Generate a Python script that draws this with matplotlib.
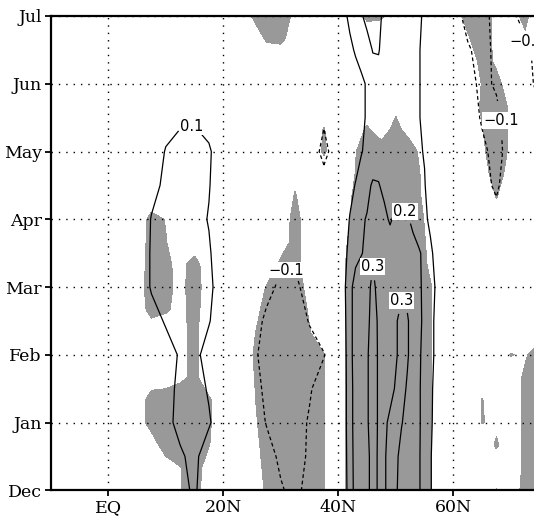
import numpy as np
import matplotlib
matplotlib.use('Agg')
import matplotlib.pyplot as plt

# ---------------- data ----------------
months = ['Dec', 'Jan', 'Feb', 'Mar', 'Apr', 'May', 'Jun', 'Jul']
lat_ticks = [0, 20, 40, 60]
lat_labels = ['EQ', '20N', '40N', '60N']

# correlation field (contour lines), values in hundredths
corr_lat = [-10, -5, 0, 5, 7.5, 10, 12.5, 15, 17.5, 20, 22.5, 25, 27.5, 30, 32.5, 35, 37.5,
            40, 41, 42, 43, 44, 45, 46, 47, 48, 49, 50, 51, 52, 53, 54, 55, 56, 57, 58,
            60, 62.5, 65, 67.5, 70, 72.5, 75]
corr_time = [0, 0.5, 1, 1.5, 2, 2.5, 3, 3.5, 4, 4.5, 5, 5.5, 6, 6.5, 7]
corr_rows = [
    [0, 1, 2, 3, 4, 5, 8, 11, 5, 2, 0, -3, -6, -9, -13, -6, -2,
     2, 6, 14, 24, 26, 28, 33, 29, 29, 33, 31, 27, 25, 23, 21, 16, 11, 5, 2,
     0, -1, -2, -2, -1, 0, 0],
    [0, 1, 2, 3, 4, 6, 9, 12, 5, 2, 0, -3, -6, -12, -14, -8.5, -3,
     2, 6, 15, 24, 26, 28, 33, 29, 29, 33, 32, 27, 25, 23, 21, 16, 11, 5, 2,
     0, -1, -2, -2, -1, 0, 0],
    [0, 1, 2, 4, 6, 8, 12, 13, 11, 4, 0, -4, -10.5, -13, -14, -9, -4,
     2, 6, 16, 24, 26, 29, 34, 29, 28, 32, 33, 30.5, 27, 24, 21, 17, 12, 6, 2,
     0, -1, -2, -2, -1, 0, 0],
    [0, 1, 2, 3, 5, 7, 12, 14, 9, 3, 0, -6, -12, -14, -14, -11, -5,
     1, 6, 16, 24, 26, 29, 34, 29, 26, 27, 31, 33, 29, 25, 21, 17, 12, 7, 3,
     0, -1, -2, -2, -1, 0, 0],
    [0, 1, 2, 3, 4, 6, 11, 12, 7, 2, -2, -8, -13, -14, -14, -13, -10.5,
     -3, 6, 17, 24, 26, 29, 34, 29, 26, 26, 29, 33, 31, 26, 21, 18, 13, 8, 3,
     0, -1, -2, -2, -1, 0, 0],
    [0, 1, 2, 3, 6, 11, 12, 13, 10.5, 5, 0, -5, -12, -14, -14, -9.5, -4,
     2, 7, 17, 24, 26, 28, 33, 29, 26, 26, 29, 33, 31, 26, 22, 18, 13, 8, 3,
     0, -1, -2, -1, 0, 0, 0],
    [0, 1, 1, 2, 11, 12, 13, 13, 12, 5, 0, -3, -7, -12, -12, -6, -2,
     2, 8, 17, 24, 26, 28, 31.5, 28, 26, 26, 27, 28, 27, 25, 21.5, 18, 14, 9, 3,
     0, -1, -2, -1, 0, 0, 0],
    [0, 1, 1, 2, 11, 12, 13, 13, 11, 4, 0, -2, -4, -8, -8, -4, -1,
     2, 7, 13, 17, 19.5, 22, 29, 27, 25, 25, 25, 25, 24, 23, 21, 18, 12, 7, 3,
     0, -1, -2, -2, -1, 0, 0],
    [0, 1, 1, 2, 10.5, 12, 13, 13, 9.5, 3, 0, -1, -2, -4, -4, -3, -2,
     0, 5, 10.5, 15, 19, 20.5, 24, 23, 22, 19, 22, 22, 21, 18, 15, 12, 8, 4, 2,
     -1, -2, -4, -7, -3, -1, 0],
    [0, 1, 1, 2, 7, 12, 13, 13, 10.5, 4, 0, -1, -2, -3, -3, -4, -7,
     -2, 2, 7, 10.5, 14, 18, 21, 20.5, 18, 17, 17, 16, 15, 14, 12, 10.5, 6, 3, 1,
     -1, -3, -7, -11.5, -4, -1, 0],
    [0, 1, 1, 2, 5, 10.5, 13, 13, 11, 5, 0, -1, -2, -3, -3, -6, -12,
     -6, -2, 3, 6, 9.5, 12, 15, 16, 15, 14, 14, 13, 13, 12, 11, 9.5, 5, 2, 0,
     -1, -3, -8, -13, -6, -2, -1],
    [0, 1, 1, 2, 4, 7, 8.5, 9, 7, 3, 0, -1, -2, -2, -2, -4, -9,
     -3, 0, 3, 5, 8, 11, 14, 15, 14, 13, 13, 12, 12, 11, 10.5, 8, 5, 2, 0,
     -2, -5, -11, -12, -5, -4, -8],
    [0, 1, 1, 1, 2, 3, 4, 4, 3, 2, 0, -1, -2, -2, -2, -2, -3,
     0, 2, 4, 6, 8, 11, 15, 17, 15, 14, 13, 13, 12, 11, 10.5, 8, 5, 2, 0,
     -3, -7, -12, -9, -5, -6, -13],
    [0, 1, 1, 1, 1, 2, 2, 2, 2, 1, 0, -1, -2, -2, -2, -1, 0,
     2, 5, 8, 11, 14, 16, 20.5, 20.5, 17, 15, 14, 13, 12, 11.5, 10.5, 8, 5, 2, 0,
     -4, -9, -13, -8, -5, -8, -13],
    [0, 1, 1, 1, 1, 1, 1, 1, 1, 1, 0, -1, -2, -2, -2, -1, 0,
     3, 8, 12, 16, 19, 23, 24, 22, 18, 15, 14, 13, 12, 11.5, 11, 9, 5, 2, 0,
     -6, -13, -13, -7, -8, -13, -15],
]

# significance field (shading), hex digit per 2.5 deg cell, shaded above 7.5
sig_lat = [-10, -7.5, -5, -2.5, 0, 2.5, 5, 7.5, 10, 12.5, 15, 17.5, 20, 22.5, 25, 27.5,
           30, 32.5, 35, 37.5, 40, 42.5, 45, 47.5, 50, 52.5, 55, 57.5, 60, 62.5, 65,
           67.5, 70, 72.5, 75]
sig_time = [0, 1/3, 2/3, 1, 4/3, 5/3, 2, 7/3, 8/3, 3, 10/3, 11/3, 4, 13/3, 14/3, 5,
            16/3, 17/3, 6, 19/3, 20/3, 7]
sig_rows = [
    "000000 0007C10 009FFF80 FFFFFF0 00080CF",
    "000000 0007D20 00BFFF80 FFFFFF0 00000AF",
    "000000 00FFF80 00EFFF80 FFFFFF0 00090AF",
    "000000 0DFFF90 03FFFF80 FFFFFF0 00850AF",
    "000000 0DFFF90 05FFFF80 FFFFFF0 00800AF",
    "000000 0005A00 06FFFF80 FFFFFF0 00000AF",
    "000000 0005A00 07FFFF80 FFFFFF0 000086F",
    "000000 0005A00 05FFF800 FFFFFF0 0000000",
    "000000 0C94C00 00DFF600 FFFFFF0 0000000",
    "000000 0FB4D10 008FF200 FFFFFF0 0000000",
    "000000 0DA4C00 000AC000 FFFFF90 0000000",
    "000000 0C80000 0002B200 CFFFF80 0000000",
    "000000 0B70000 0003A300 9FFFF70 0002000",
    "000000 0000000 00038300 8FFFF50 0008000",
    "000000 0000000 00006000 6FFFF40 002D200",
    "000000 0000000 00000090 5FFFF00 005F500",
    "000000 0000000 00000080 090C000 007F500",
    "000000 0000000 00000000 0004000 009F500",
    "000000 0000000 00000000 0000000 008A300",
    "000000 0000000 00000000 0000000 00B6000",
    "000000 0000000 009A2000 0000000 06F4060",
    "000000 0000000 08FF4000 0A90000 0CF44A0",
]

contour_levels = [-0.3, -0.2, -0.1, 0.1, 0.2, 0.3]

# ---------------- layout / style ----------------
label_pos = [(14.3, 5.42), (31.0, 3.25), (51.6, 4.12), (46.2, 3.3),
             (51.2, 2.85), (66.8, 5.45), (72.8, 6.62)]

plt.rcParams['lines.dashed_pattern'] = (3.0, 2.2)

fig = plt.figure(figsize=(5.34, 5.16), dpi=100)
ax = fig.add_axes([0.0951, 0.0498, 0.9049, 0.9192])

Z = np.array(corr_rows, dtype=float) / 100.0
S = np.array([[int(ch, 16) for ch in r.replace(' ', '')] for r in sig_rows], dtype=float)

ax.contourf(sig_lat, sig_time, S, levels=[7.5, 16], colors=['#999999'])

styles = ['dashed' if lv < 0 else 'solid' for lv in contour_levels]
cs = ax.contour(corr_lat, corr_time, Z, levels=contour_levels, colors='k',
                linewidths=0.9, linestyles=styles)


def fmt(v):
    return f'{v:.1f}'.replace('-', '\u2212')


txts = ax.clabel(cs, fmt=fmt, fontsize=10.5, inline=True, inline_spacing=2,
                 manual=label_pos)
for t in txts:
    t.set_rotation(0)
    t.set_family('DejaVu Sans')
    t.set_bbox(dict(facecolor='white', edgecolor='none', pad=0.6))

ax.set_xlim(-10, 74.03)
ax.set_ylim(0, 7)
ax.set_xticks(lat_ticks)
ax.set_xticklabels(lat_labels)
ax.set_yticks(range(len(months)))
ax.set_yticklabels(months)

ax.grid(True, color='k', linestyle=(0, (1, 4.3)), linewidth=1.0)
ax.set_axisbelow(False)

for side in ['left', 'top', 'bottom']:
    ax.spines[side].set_linewidth(1.6)
ax.spines['right'].set_visible(False)

ax.tick_params(direction='out', length=4, width=1.3, pad=2.5, labelsize=12.5)
for lab in ax.get_xticklabels() + ax.get_yticklabels():
    lab.set_family('DejaVu Serif')

fig.savefig('out.png', dpi=100)
